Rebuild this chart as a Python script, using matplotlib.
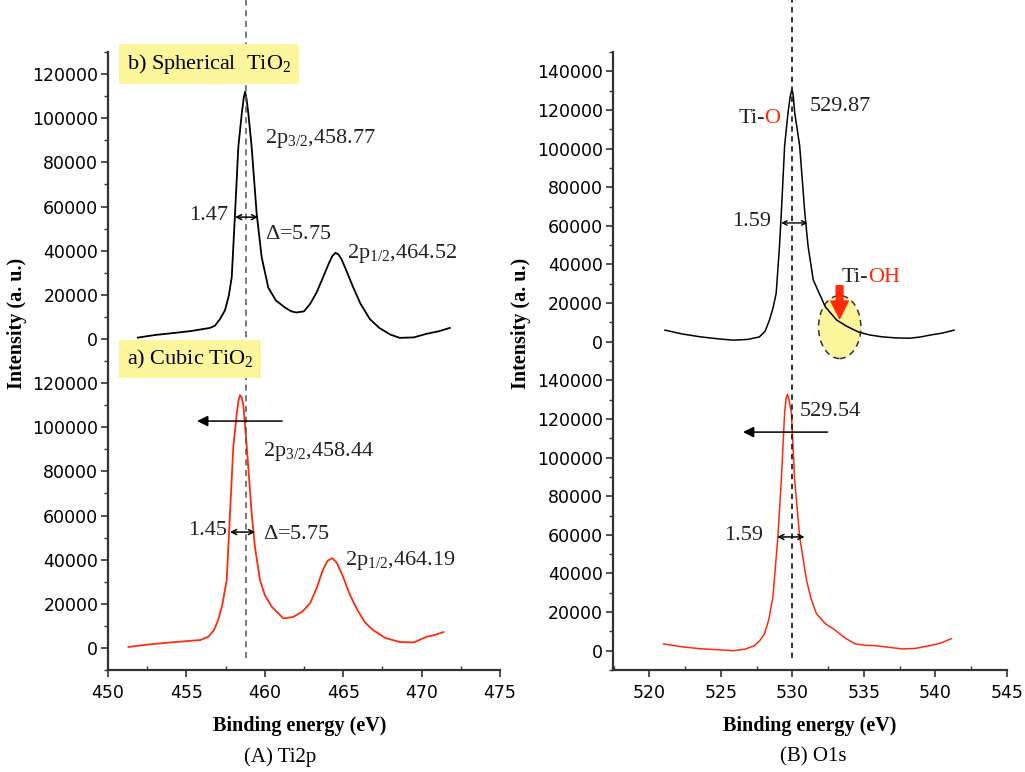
import matplotlib.pyplot as plt
from matplotlib.patches import Ellipse
from matplotlib.ticker import MultipleLocator

plt.rcParams['mathtext.fontset'] = 'custom'
plt.rcParams['mathtext.rm'] = 'Liberation Serif'
plt.rcParams['mathtext.it'] = 'Liberation Serif:italic'

SERIF = 'Liberation Serif'
RED = '#ff2a0a'
YELLOW = '#fbf59b'

# ---- Ti2p, spherical TiO2 (upper trace, black)
ti_sph_x = [451.9, 453.0, 454.2, 455.3, 455.9, 456.5, 456.82, 457.14, 457.46, 457.7, 457.89, 458.1,
            458.31, 458.53, 458.65, 458.74, 458.83, 458.95, 459.16, 459.48, 459.8, 460.22, 460.7,
            461.29, 461.7, 462.0, 462.5, 462.9, 463.3, 463.7, 464.1, 464.3, 464.5, 464.7, 464.9,
            465.2, 465.6, 466.1, 466.7, 467.3, 468.0, 468.6, 469.5, 470.3, 471.1, 471.8]
ti_sph_y = [600, 1800, 2700, 3600, 4300, 5000, 6000, 9000, 13000, 19500, 28000, 56800,
            87000, 102100, 109000, 112000, 109000, 102100, 87000, 56800, 37000, 23300, 17500,
            14200, 12500, 12000, 12500, 16000, 21000, 27700, 34500, 37500, 39000, 38300, 36000,
            31000, 24000, 16000, 9000, 5000, 2000, 500, 700, 2300, 3500, 5000]

# ---- Ti2p, cubic TiO2 (lower trace, red)
ti_cub_x = [451.3, 452.5, 454.0, 455.2, 455.9, 456.4, 456.75, 457.03, 457.3, 457.57, 457.78, 457.99,
            458.21, 458.32, 458.42, 458.52, 458.63, 458.85, 459.16, 459.37, 459.69, 460.0, 460.44,
            461.18, 461.8, 462.4, 462.9, 463.3, 463.7, 464.0, 464.3, 464.6, 465.0, 465.4,
            465.9, 466.4, 466.9, 467.7, 468.6, 469.5, 470.3, 470.9, 471.4]
ti_cub_y = [450, 1500, 2500, 3200, 3600, 5100, 8000, 12700, 20000, 30800, 61000, 91100,
            106200, 112000, 114500, 113500, 110000, 91100, 61000, 45800, 30800, 24000, 18700,
            13400, 14000, 16500, 20400, 27000, 35300, 39500, 40700, 38500, 32100, 24500,
            17200, 11500, 8100, 4500, 2700, 2500, 5000, 6000, 7200]

# ---- O1s, spherical (upper trace, black)
o_sph_x = [521.1, 522.3, 523.6, 524.8, 525.9, 526.9, 527.7, 528.1, 528.4, 528.65, 528.87, 529.1,
           529.23, 529.46, 529.7, 529.85, 529.98, 530.07, 530.16, 530.51, 530.87, 531.1, 531.46,
           532.3, 533.1, 533.8, 534.6, 535.4, 536.3, 537.2, 538.2, 539.0, 539.6, 540.5, 541.3]
o_sph_y = [6000, 4000, 2500, 1500, 800, 1200, 2500, 5500, 11200, 17500, 25100, 49400,
           66800, 101500, 118800, 127000, 131000, 127000, 118800, 101500, 66800, 49400, 32000,
           18100, 11200, 8000, 5100, 3500, 2500, 2000, 1800, 2500, 3400, 4500, 6000]

# ---- O1s, cubic (lower trace, red)
o_cub_x = [521.0, 522.3, 523.6, 524.8, 525.9, 526.7, 527.35, 527.7, 528.05, 528.35, 528.64, 528.99,
           529.23, 529.46, 529.56, 529.65, 529.75, 529.93, 530.16, 530.51, 530.99, 531.3, 531.69,
           532.3, 532.87, 533.7, 534.4, 535.1, 535.8, 536.7, 537.7, 538.6, 539.6, 540.4, 541.1]
o_cub_y = [3500, 2000, 1000, 500, 0, 800, 2600, 5000, 8700, 16000, 27800, 59000,
           88500, 123300, 130500, 132800, 130500, 123300, 88500, 59000, 36500, 27000, 19100,
           14000, 11300, 6500, 3500, 2800, 2600, 1800, 900, 1200, 2600, 4000, 6200]

ti_offset = 140000
o_offset = 160000
ti_tick_vals = [0, 20000, 40000, 60000, 80000, 100000, 120000]
o_tick_vals = [0, 20000, 40000, 60000, 80000, 100000, 120000, 140000]

fig = plt.figure(figsize=(10.25, 7.72), dpi=100)
axA = fig.add_axes([0.1054, 0.1321, 0.3824, 0.8005])
axB = fig.add_axes([0.598, 0.1321, 0.3844, 0.8005])


def style_axis(ax, xlim, ylim, xticks, ticks, offset):
    ax.set_xlim(*xlim)
    ax.set_ylim(*ylim)
    for s in ['top', 'right']:
        ax.spines[s].set_visible(False)
    for s in ['left', 'bottom']:
        ax.spines[s].set_linewidth(1.6)
        ax.spines[s].set_color('#333333')
    ax.set_xticks(xticks)
    ax.set_xticklabels([str(v) for v in xticks], fontsize=12.5, fontfamily='DejaVu Sans')
    ax.xaxis.set_minor_locator(MultipleLocator(2.5))
    pos = list(ticks) + [offset + v for v in ticks]
    labels = [str(v) for v in ticks] * 2
    ax.set_yticks(pos)
    ax.set_yticklabels(labels, fontsize=12.5, fontfamily='DejaVu Sans')
    ax.yaxis.set_minor_locator(MultipleLocator(10000))
    ax.tick_params(axis='both', which='major', width=1.2, length=5, color='#333333', pad=2)
    ax.tick_params(axis='both', which='minor', width=1.0, length=3, color='#333333')
    ax.tick_params(axis='x', which='minor', direction='in')
    ax.tick_params(axis='x', which='major', pad=5)
    ax.set_ylabel('Intensity (a. u.)', fontfamily=SERIF, fontweight='bold', fontsize=14.5)
    ax.yaxis.set_label_coords(-0.207, 0.561)
    ax.set_xlabel('Binding energy (eV)', fontfamily=SERIF, fontweight='bold', fontsize=14.5)


# ---------------- Panel A: Ti2p
style_axis(axA, (450, 475), (-10000, 270000), [450, 455, 460, 465, 470, 475], ti_tick_vals, ti_offset)
axA.xaxis.set_label_coords(0.49, -0.075)
axA.plot(ti_sph_x, [v + ti_offset for v in ti_sph_y], color='black', lw=1.3)
axA.plot(ti_cub_x, ti_cub_y, color=RED, lw=1.3)
axA.axvline(458.78, ymin=0.019, ymax=1.084, color='#555555', lw=1.1, ls=(0, (4, 3)), clip_on=False)

box = dict(boxstyle='square,pad=0.35', fc=YELLOW, ec='none')
axA.text(451.2, 264600, r'b) Spherical  TiO$_2$', fontfamily=SERIF, fontsize=16,
         va='center', ha='left', bbox=box)
axA.text(451.2, 130900, r'a) Cubic TiO$_2$', fontfamily=SERIF, fontsize=16,
         va='center', ha='left', bbox=box)

ann = dict(fontfamily=SERIF, fontsize=16, va='center', color='#222222')
axA.text(460.0, 230600, r'2p$_{3/2}$,458.77', ha='left', **ann)
axA.text(457.65, 196100, '1.47', ha='right', **ann)
axA.annotate('', xy=(458.1, 195200), xytext=(459.57, 195200),
             arrowprops=dict(arrowstyle='<->', lw=1.1, mutation_scale=9, shrinkA=0, shrinkB=0))
axA.text(460.0, 187500, r'$\Delta$=5.75', ha='left', **ann)
axA.text(465.24, 178900, r'2p$_{1/2}$,464.52', ha='left', **ann)

axA.annotate('', xy=(455.68, 102800), xytext=(461.1, 102800),
             arrowprops=dict(arrowstyle='-|>', lw=1.1, mutation_scale=16, fc='black',
                             shrinkA=0, shrinkB=0))
axA.text(459.9, 88800, r'2p$_{3/2}$,458.44', ha='left', **ann)
axA.text(457.6, 53000, '1.45', ha='right', **ann)
axA.annotate('', xy=(457.78, 52500), xytext=(459.38, 52500),
             arrowprops=dict(arrowstyle='<->', lw=1.1, mutation_scale=9, shrinkA=0, shrinkB=0))
axA.text(459.9, 51200, r'$\Delta$=5.75', ha='left', **ann)
axA.text(465.1, 39800, r'2p$_{1/2}$,464.19', ha='left', **ann)

# ---------------- Panel B: O1s
style_axis(axB, (517.46, 545), (-10000, 310000), [520, 525, 530, 535, 540, 545], o_tick_vals, o_offset)
axB.xaxis.set_label_coords(0.5, -0.075)
axB.add_patch(Ellipse((533.31, 167600), 2.96, 32600, fc=YELLOW, ec='#333333', lw=1.1,
                      ls=(0, (4, 3)), zorder=1))
axB.plot(o_sph_x, [v + o_offset for v in o_sph_y], color='black', lw=1.1, zorder=2)
axB.plot(o_cub_x, o_cub_y, color=RED, lw=1.1, zorder=2)
axB.axvline(529.95, ymin=0.019, ymax=1.084, color='#222222', lw=1.3, ls=(0, (3, 2.5)), clip_on=False)

axB.text(528.1, 275800, 'Ti-', ha='right', **ann)
axB.text(528.05, 275800, 'O', ha='left', fontfamily=SERIF, fontsize=16, va='center', color=RED)
axB.text(531.2, 282000, '529.87', ha='left', **ann)
axB.text(528.5, 222500, '1.59', ha='right', **ann)
axB.annotate('', xy=(529.22, 221500), xytext=(531.06, 221500),
             arrowprops=dict(arrowstyle='<->', lw=1.0, mutation_scale=8, shrinkA=0, shrinkB=0))
axB.text(533.45, 193000, 'Ti-', ha='left', **ann)
axB.text(535.3, 193000, 'OH', ha='left', fontfamily=SERIF, fontsize=16, va='center', color=RED)
axB.annotate('', xy=(533.3, 172000), xytext=(533.3, 189000),
             arrowprops=dict(arrowstyle='simple,head_width=0.9,head_length=0.9,tail_width=0.35',
                             fc=RED, ec=RED, mutation_scale=14, shrinkA=0, shrinkB=0))

axB.text(530.5, 124100, '529.54', ha='left', **ann)
axB.annotate('', xy=(526.55, 113200), xytext=(532.46, 113200),
             arrowprops=dict(arrowstyle='-|>', lw=1.1, mutation_scale=16, fc='black',
                             shrinkA=0, shrinkB=0))
axB.text(527.96, 59400, '1.59', ha='right', **ann)
axB.annotate('', xy=(528.94, 58900), xytext=(530.85, 58900),
             arrowprops=dict(arrowstyle='<->', lw=1.1, mutation_scale=9, shrinkA=0, shrinkB=0))

fig.text(280 / 1025, 1 - 757 / 772, '(A) Ti2p', fontfamily=SERIF, fontsize=15, ha='center', va='center')
fig.text(813 / 1025, 1 - 757 / 772, '(B) O1s', fontfamily=SERIF, fontsize=15, ha='center', va='center')

fig.savefig('out.png', dpi=100)
